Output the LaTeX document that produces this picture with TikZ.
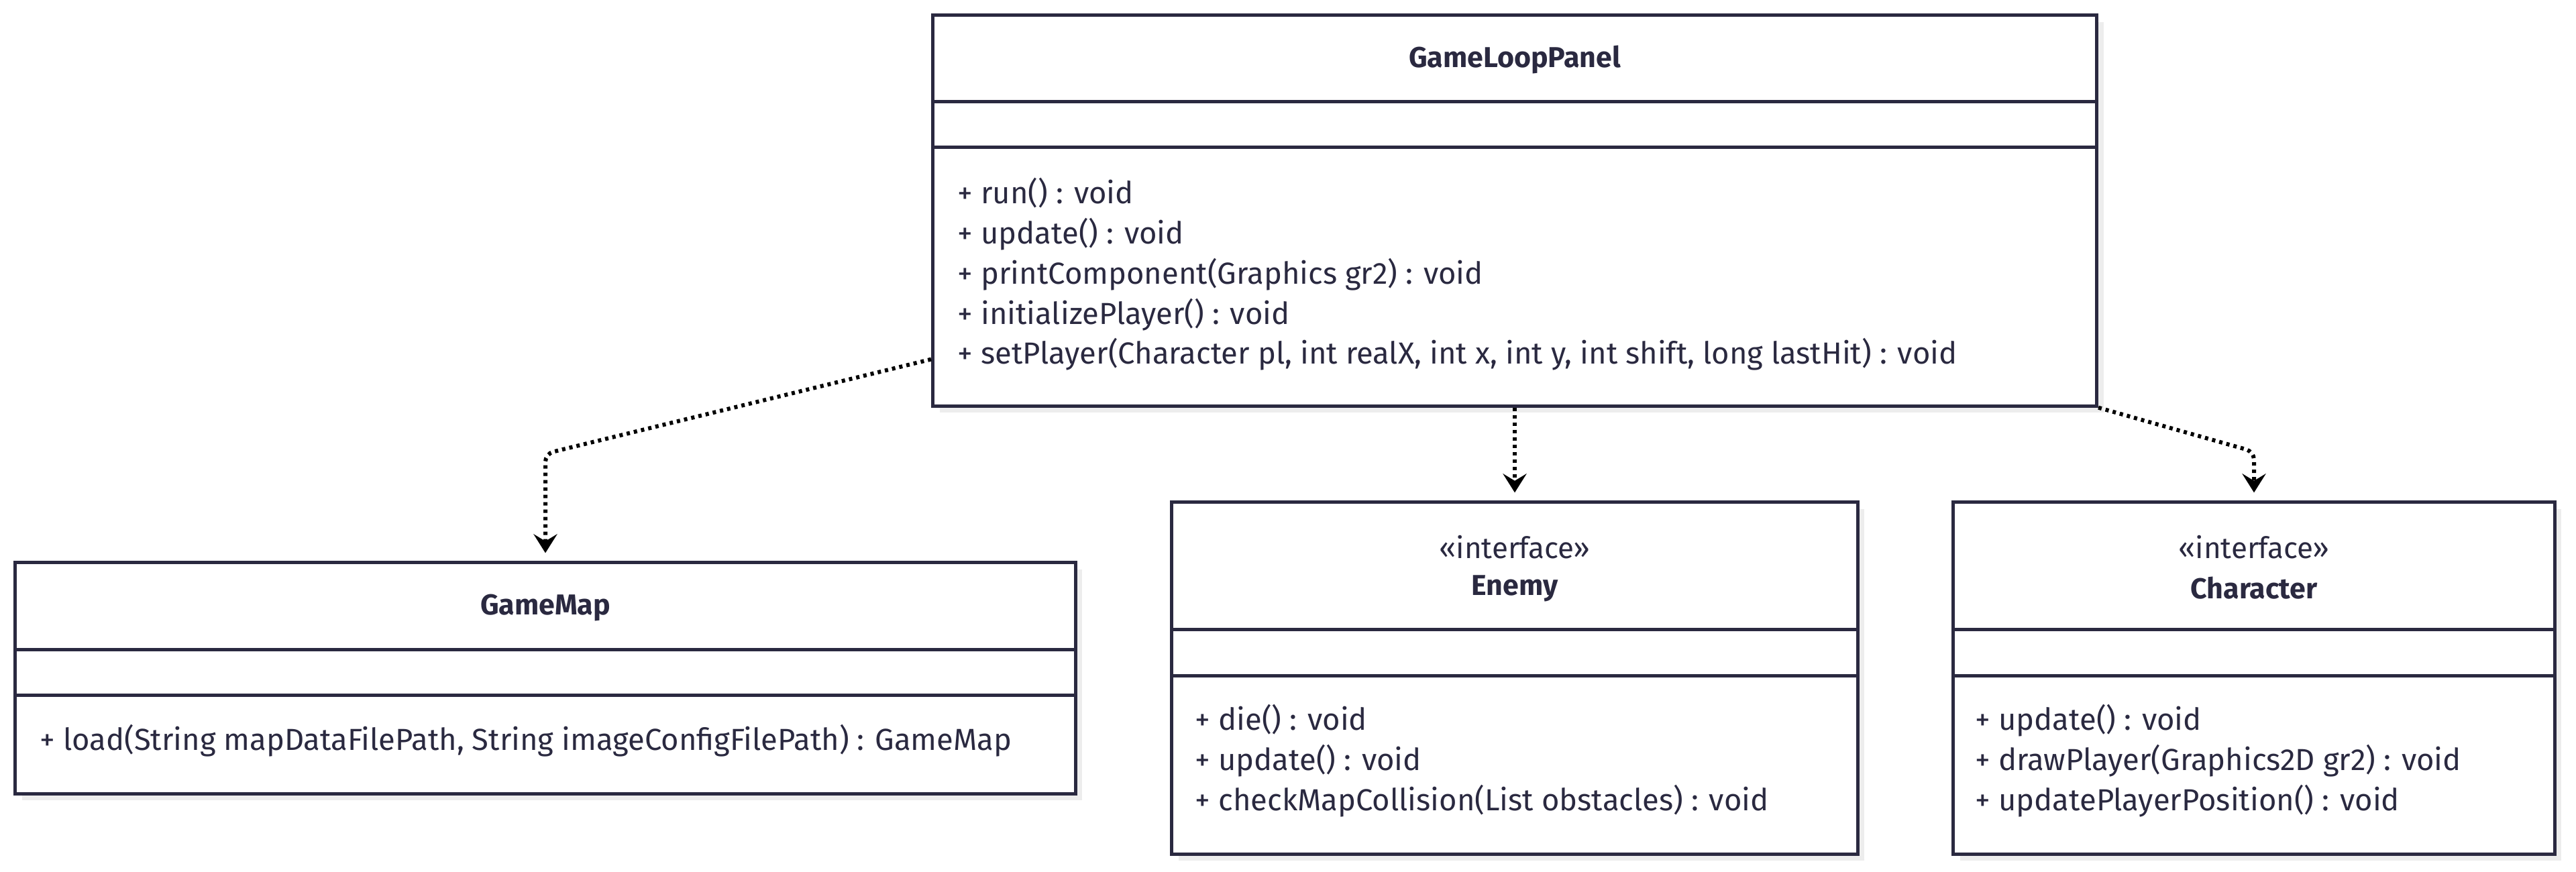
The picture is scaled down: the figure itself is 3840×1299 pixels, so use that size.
\documentclass[tikz,border=0pt]{standalone}
\usepackage{fontspec}
\setmainfont{Fira Sans}
\usetikzlibrary{arrows.meta}
\usetikzlibrary{shadows}

\definecolor{umlline}{HTML}{2A2940}

\tikzset{
	classbox/.style={draw=umlline, line width=0.05cm, fill=white, inner sep=0pt,
		drop shadow={shadow xshift=0.1cm, shadow yshift=-0.1cm, fill=black!7, opacity=1}},
	sepline/.style={umlline, line width=0.05cm},
	classname/.style={font=\fontsize{12.2}{17}\selectfont\bfseries, text=umlline, align=center},
	stereo/.style={font=\fontsize{12.5}{17}\selectfont, text=umlline},
	ops/.style={font=\fontsize{12.9}{17}\selectfont, text=umlline, align=left, anchor=west, inner sep=0pt},
	dep/.style={black, line width=0.06cm, dash pattern=on 0.05cm off 0.06cm, rounded corners=0.12cm,
		-{Stealth[length=8pt, width=10pt, inset=3pt]}, shorten >=0.12cm},
}

\begin{document}
\begin{tikzpicture}[x=0.01cm, y=-0.01cm]
	\useasboundingbox (0,0) rectangle (3840,1299);

	% class boxes
	\node[classbox, minimum width=17.34cm, minimum height=5.82cm] (panel) at (2258,314) {};
	\node[classbox, minimum width=15.80cm, minimum height=3.44cm] (gamemap) at (813,1011) {};
	\node[classbox, minimum width=10.22cm, minimum height=5.24cm] (enemy) at (2258,1011) {};
	\node[classbox, minimum width=8.96cm, minimum height=5.24cm] (character) at (3360,1011) {};

	% compartments
	\draw[sepline] (panel.west |- 0,151) -- (panel.east |- 0,151);
	\draw[sepline] (panel.west |- 0,219) -- (panel.east |- 0,219);
	\draw[sepline] (gamemap.west |- 0,968) -- (gamemap.east |- 0,968);
	\draw[sepline] (gamemap.west |- 0,1036) -- (gamemap.east |- 0,1036);
	\draw[sepline] (enemy.west |- 0,938) -- (enemy.east |- 0,938);
	\draw[sepline] (enemy.west |- 0,1007) -- (enemy.east |- 0,1007);
	\draw[sepline] (character.west |- 0,938) -- (character.east |- 0,938);
	\draw[sepline] (character.west |- 0,1007) -- (character.east |- 0,1007);

	% names
	\node[classname] (panelname) at (2258,89) {GameLoopPanel};
	\node[classname] (gamemapname) at (813,906) {GameMap};
	\node[stereo] (enemystereo) at (2258,816) {«interface»};
	\node[classname] (enemyname) at (2258,877) {Enemy};
	\node[stereo] (characterstereo) at (3360,816) {«interface»};
	\node[classname] (charactername) at (3360,877) {Character};

	% methods
	\node[ops] (panelops) at (1427,409) {+ run() : void\\+ update() : void\\+ printComponent(Graphics gr2) : void\\+ initializePlayer() : void\\+ setPlayer(Character pl, int realX, int x, int y, int shift, long lastHit) : void};
	\node[ops] (gamemapops) at (59,1104) {+ load(String mapDataFilePath, String imageConfigFilePath) : GameMap};
	\node[ops] (enemyops) at (1781,1134) {+ die() : void\\+ update() : void\\+ checkMapCollision(List obstacles) : void};
	\node[ops] (characterops) at (2944,1134) {+ update() : void\\+ drawPlayer(Graphics2D gr2) : void\\+ updatePlayerPosition() : void};

	% dependencies
	\draw[dep] ([yshift=0.72cm]panel.south west) -- ([yshift=1.60cm]gamemap.north) -- (gamemap.north);
	\draw[dep] (panel.south) -- (enemy.north);
	\draw[dep] (panel.south east) -- ([yshift=0.73cm]character.north) -- (character.north);
\end{tikzpicture}
\end{document}
